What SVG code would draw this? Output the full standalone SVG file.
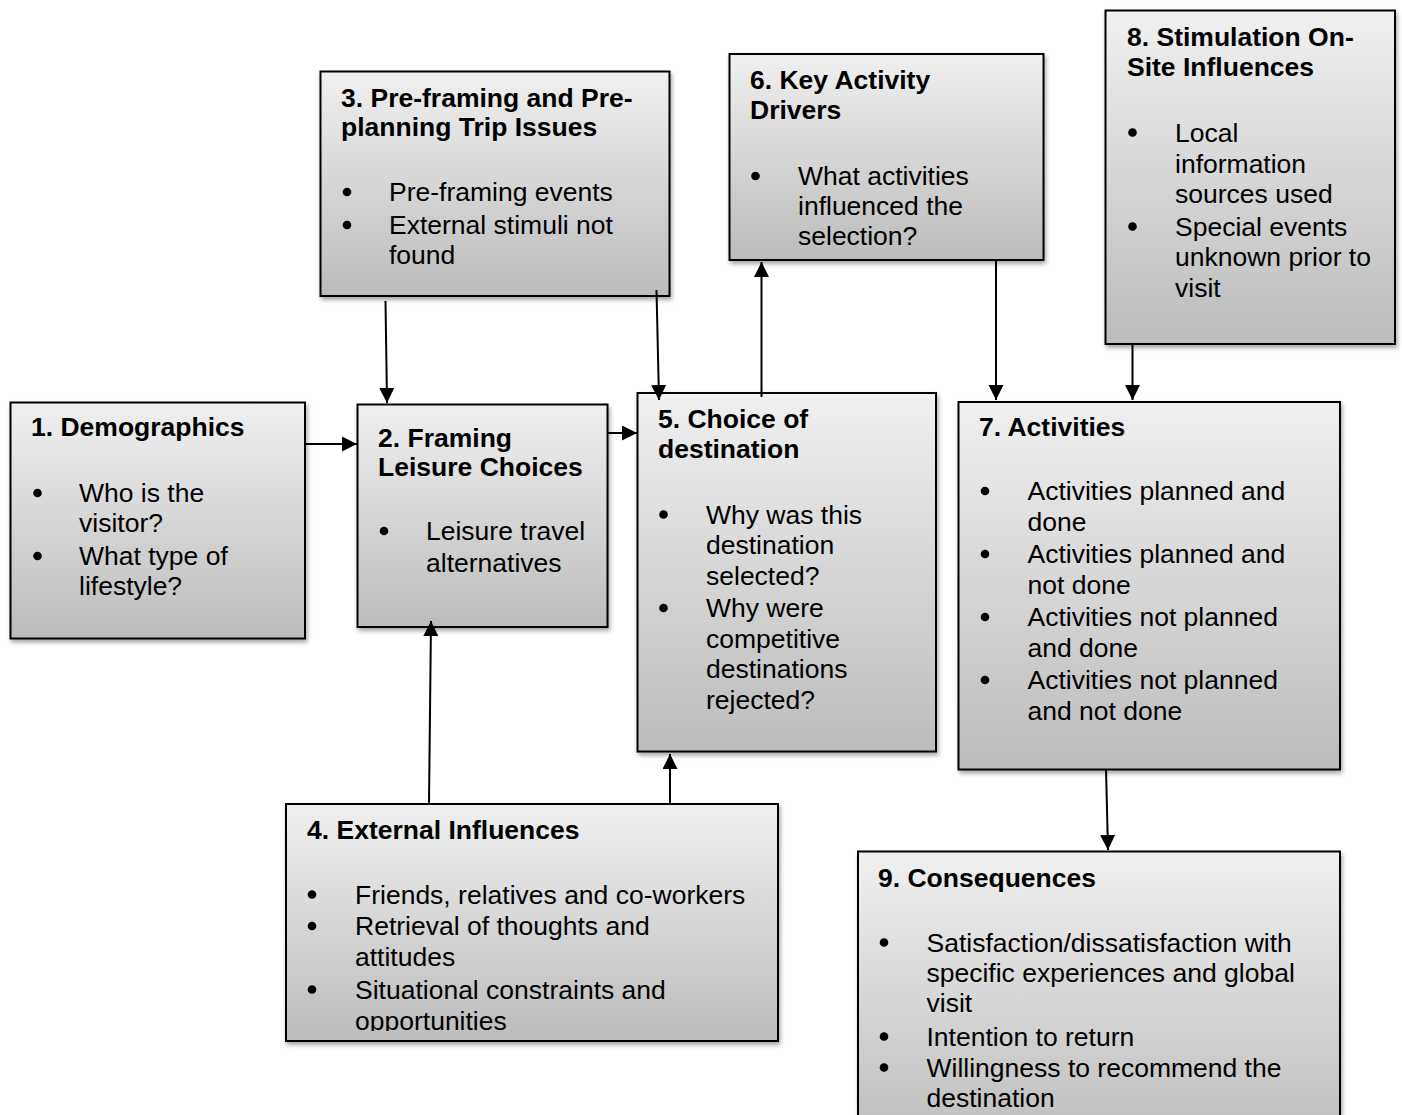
<svg xmlns="http://www.w3.org/2000/svg" width="1402" height="1115" viewBox="0 0 1402 1115">
<style>
.box{fill:url(#g);stroke:#000;stroke-width:2;filter:url(#sh)}
.t{font-family:"Liberation Sans",Arial,sans-serif;font-size:26.5px;fill:#000}
.b{font-weight:bold}
.d{fill:#000}
.c{stroke:#000;stroke-width:2;fill:none;marker-end:url(#ah)}
</style>
<defs>
<linearGradient id="g" x1="0" y1="0" x2="0" y2="1">
<stop offset="0" stop-color="#f0f0f0"/>
<stop offset="1" stop-color="#bcbcbc"/>
</linearGradient>
<filter id="sh" x="-5%" y="-5%" width="115%" height="115%">
<feDropShadow dx="1.5" dy="3" stdDeviation="2" flood-color="#000" flood-opacity="0.35"/>
</filter>
<marker id="ah" markerUnits="userSpaceOnUse" markerWidth="17" markerHeight="16" refX="15" refY="7.5" orient="auto">
<path d="M0,0 L15,7.5 L0,15 Z" fill="#000"/>
</marker>
<clipPath id="clip4"><rect x="286" y="804" width="492" height="227"/></clipPath>
<clipPath id="clip9"><rect x="858" y="851" width="482" height="260"/></clipPath>
</defs>
<rect width="1402" height="1115" fill="#fff"/>

<g id="n1">
<rect class="box" x="10.5" y="402.5" width="294.5" height="236"/>
<text class="t b" x="31" y="436">1. Demographics</text>
<circle class="d" cx="37.5" cy="493" r="4.3"/><circle class="d" cx="37.5" cy="556" r="4.3"/>
<text class="t"><tspan x="79" y="502">Who is the</tspan><tspan x="79" y="532">visitor?</tspan><tspan x="79" y="565">What type of</tspan><tspan x="79" y="595">lifestyle?</tspan></text>
</g>

<g id="n2">
<rect class="box" x="357.5" y="404.5" width="250" height="222.5"/>
<text class="t b"><tspan x="378" y="447">2. Framing</tspan><tspan x="378" y="475.5">Leisure Choices</tspan></text>
<circle class="d" cx="384" cy="531" r="4.3"/>
<text class="t"><tspan x="426" y="540">Leisure travel</tspan><tspan x="426" y="571.5">alternatives</tspan></text>
</g>

<g id="n3">
<rect class="box" x="320.5" y="71.5" width="349" height="224.5"/>
<text class="t b"><tspan x="341" y="107">3. Pre-framing and Pre-</tspan><tspan x="341" y="136">planning Trip Issues</tspan></text>
<circle class="d" cx="347" cy="192" r="4.3"/><circle class="d" cx="347" cy="225" r="4.3"/>
<text class="t"><tspan x="389" y="201">Pre-framing events</tspan><tspan x="389" y="234">External stimuli not</tspan><tspan x="389" y="264">found</tspan></text>
</g>

<g id="n4">
<rect class="box" x="286" y="804" width="492" height="237"/>
<g clip-path="url(#clip4)">
<text class="t b" x="307" y="838.5">4. External Influences</text>
<circle class="d" cx="312" cy="894.5" r="4.3"/><circle class="d" cx="312" cy="926" r="4.3"/><circle class="d" cx="312" cy="989.5" r="4.3"/>
<text class="t"><tspan x="355" y="903.5">Friends, relatives and co-workers</tspan><tspan x="355" y="935">Retrieval of thoughts and</tspan><tspan x="355" y="966">attitudes</tspan><tspan x="355" y="998.5">Situational constraints and</tspan><tspan x="355" y="1029.5">opportunities</tspan></text>
</g>
</g>

<g id="n5">
<rect class="box" x="637.5" y="393" width="298.5" height="358.5"/>
<text class="t b"><tspan x="658" y="428">5. Choice of</tspan><tspan x="658" y="457.5">destination</tspan></text>
<circle class="d" cx="663.5" cy="514.5" r="4.3"/><circle class="d" cx="663.5" cy="608" r="4.3"/>
<text class="t"><tspan x="706" y="523.5">Why was this</tspan><tspan x="706" y="554">destination</tspan><tspan x="706" y="584.5">selected?</tspan><tspan x="706" y="617">Why were</tspan><tspan x="706" y="648">competitive</tspan><tspan x="706" y="678">destinations</tspan><tspan x="706" y="708.5">rejected?</tspan></text>
</g>

<g id="n6">
<rect class="box" x="729.5" y="54" width="314" height="206"/>
<text class="t b"><tspan x="750" y="88.5">6. Key Activity</tspan><tspan x="750" y="118.5">Drivers</tspan></text>
<circle class="d" cx="755.5" cy="176" r="4.3"/>
<text class="t"><tspan x="798" y="185">What activities</tspan><tspan x="798" y="215">influenced the</tspan><tspan x="798" y="245">selection?</tspan></text>
</g>

<g id="n7">
<rect class="box" x="958.5" y="402" width="381.5" height="367.5"/>
<text class="t b" x="979" y="436">7. Activities</text>
<circle class="d" cx="985" cy="491" r="4.3"/><circle class="d" cx="985" cy="554" r="4.3"/><circle class="d" cx="985" cy="617" r="4.3"/><circle class="d" cx="985" cy="680" r="4.3"/>
<text class="t"><tspan x="1027.5" y="500">Activities planned and</tspan><tspan x="1027.5" y="530.5">done</tspan><tspan x="1027.5" y="563">Activities planned and</tspan><tspan x="1027.5" y="594">not done</tspan><tspan x="1027.5" y="626">Activities not planned</tspan><tspan x="1027.5" y="657">and done</tspan><tspan x="1027.5" y="689">Activities not planned</tspan><tspan x="1027.5" y="720">and not done</tspan></text>
</g>

<g id="n8">
<rect class="box" x="1105.5" y="10.5" width="289.5" height="333.5"/>
<text class="t b"><tspan x="1127" y="45.5">8. Stimulation On-</tspan><tspan x="1127" y="75.5">Site Influences</tspan></text>
<circle class="d" cx="1132.5" cy="132.5" r="4.3"/><circle class="d" cx="1132.5" cy="226.5" r="4.3"/>
<text class="t"><tspan x="1175" y="141.5">Local</tspan><tspan x="1175" y="172.5">information</tspan><tspan x="1175" y="202.5">sources used</tspan><tspan x="1175" y="235.5">Special events</tspan><tspan x="1175" y="265.5">unknown prior to</tspan><tspan x="1175" y="296.5">visit</tspan></text>
</g>

<g id="n9">
<rect class="box" x="858" y="851.5" width="482" height="300"/>
<g clip-path="url(#clip9)">
<text class="t b" x="878" y="887">9. Consequences</text>
<circle class="d" cx="884" cy="942.5" r="4.3"/><circle class="d" cx="884" cy="1036.5" r="4.3"/><circle class="d" cx="884" cy="1067.5" r="4.3"/>
<text class="t"><tspan x="926.5" y="951.5">Satisfaction/dissatisfaction with</tspan><tspan x="926.5" y="981.5">specific experiences and global</tspan><tspan x="926.5" y="1012">visit</tspan><tspan x="926.5" y="1045.5">Intention to return</tspan><tspan x="926.5" y="1076.5">Willingness to recommend the</tspan><tspan x="926.5" y="1107">destination</tspan></text>
</g>
</g>

<g id="connectors">
<line class="c" x1="305" y1="444" x2="357" y2="444"/>
<line class="c" x1="385.5" y1="301" x2="387" y2="403"/>
<line class="c" x1="607" y1="433" x2="637" y2="433"/>
<line class="c" x1="656.5" y1="290" x2="659" y2="400"/>
<line class="c" x1="761.5" y1="397" x2="761.5" y2="262"/>
<line class="c" x1="996" y1="260" x2="996" y2="400"/>
<line class="c" x1="1132.5" y1="345" x2="1132.5" y2="400"/>
<line class="c" x1="429" y1="804" x2="431" y2="621"/>
<line class="c" x1="670" y1="804" x2="670" y2="754"/>
<line class="c" x1="1106" y1="769" x2="1108" y2="850"/>
</g>
</svg>
